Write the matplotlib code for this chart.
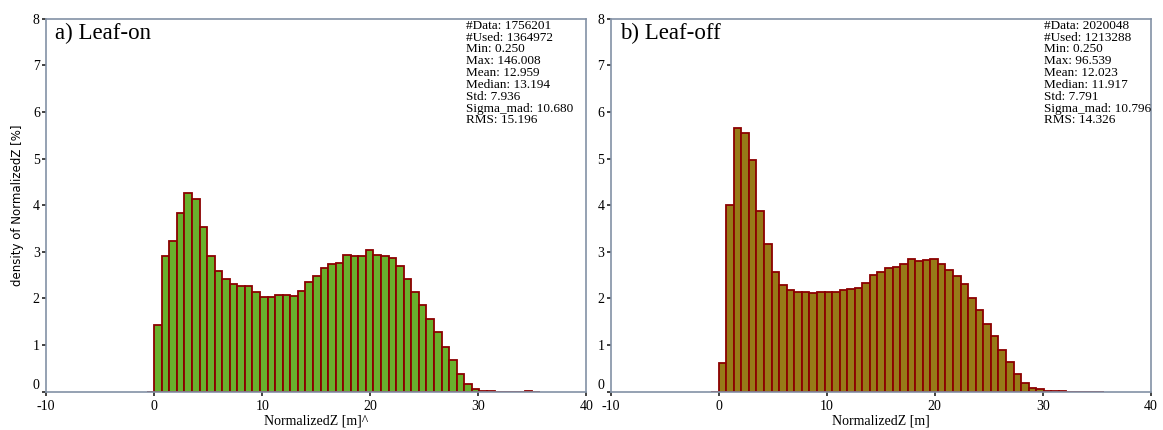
import numpy as np
import matplotlib.pyplot as plt

plt.rcParams['axes.unicode_minus'] = False

# histogram bins: width 0.7 m, starting one empty bin below zero
bin_width = 0.7
bin_start = -0.7

# density [%] per bin
leaf_on = [0.0,
           1.42, 2.90, 3.24, 3.83, 4.26, 4.13, 3.54, 2.91, 2.58, 2.42,
           2.30, 2.26, 2.26, 2.13, 2.04, 2.04, 2.07, 2.08, 2.06, 2.17,
           2.36, 2.48, 2.66, 2.74, 2.76, 2.93, 2.91, 2.92, 3.04, 2.93,
           2.90, 2.86, 2.69, 2.41, 2.13, 1.85, 1.56, 1.27, 0.96, 0.67,
           0.37, 0.17, 0.06, 0.02, 0.005, 0.004, 0.003, 0.003, 0.002, 0.02,
           0.002]
leaf_off = [0.0,
            0.62, 4.00, 5.65, 5.55, 4.98, 3.88, 3.17, 2.57, 2.29, 2.19,
            2.13, 2.14, 2.11, 2.13, 2.13, 2.14, 2.18, 2.21, 2.22, 2.33,
            2.51, 2.57, 2.66, 2.68, 2.73, 2.85, 2.80, 2.82, 2.85, 2.73,
            2.61, 2.48, 2.31, 2.00, 1.75, 1.46, 1.20, 0.89, 0.64, 0.39,
            0.18, 0.07, 0.05, 0.02, 0.008, 0.005, 0.004, 0.003, 0.002, 0.002,
            0.002]

titles = ['a) Leaf-on', 'b) Leaf-off']
xlabels = ['NormalizedZ [m]^', 'NormalizedZ [m]']
ylabel = 'density of NormalizedZ [%]'
colors = ['#69b12d', '#977a18']
stats = [
    ['#Data: 1756201', '#Used: 1364972', 'Min: 0.250', 'Max: 146.008',
     'Mean: 12.959', 'Median: 13.194', 'Std: 7.936', 'Sigma_mad: 10.680',
     'RMS: 15.196'],
    ['#Data: 2020048', '#Used: 1213288', 'Min: 0.250', 'Max: 96.539',
     'Mean: 12.023', 'Median: 11.917', 'Std: 7.791', 'Sigma_mad: 10.796',
     'RMS: 14.326'],
]
xticks = [-10, 0, 10, 20, 30, 40]
yticks = [0, 1, 2, 3, 4, 5, 6, 7, 8]

serif = 'Liberation Serif'
spine_col = '#8391a5'

fig = plt.figure(figsize=(11.63, 4.30), dpi=100)
ax_rects = [[0.0396, 0.0891, 0.4646, 0.8674],
            [0.5251, 0.0891, 0.4643, 0.8674]]

for i, vals in enumerate([leaf_on, leaf_off]):
    ax = fig.add_axes(ax_rects[i])
    lefts = bin_start + bin_width * np.arange(len(vals))
    ax.bar(lefts, vals, width=bin_width, align='edge', color=colors[i],
           edgecolor='#8b0000', linewidth=1.3)
    ax.set_xlim(-10, 40)
    ax.set_ylim(0, 8)
    ax.set_xticks(xticks)
    ax.set_yticks(yticks)
    for s in ax.spines.values():
        s.set_color(spine_col)
        s.set_linewidth(1.2)
    ax.tick_params(length=3, width=1.2, color='#222222', labelsize=10,
                   pad=1)
    ax.tick_params(axis='x', pad=3)
    ax.tick_params(axis='y', pad=1.5)
    for lab in ax.get_xticklabels() + ax.get_yticklabels():
        lab.set_family(serif)
    # nudge the "0" y label up a little, as in the reference corner
    ax.get_yticklabels()[0].set_verticalalignment('bottom')
    ax.set_xlabel(xlabels[i], family=serif, fontsize=10, labelpad=1)
    if i == 0:
        ax.set_ylabel(ylabel, family='DejaVu Sans', fontsize=8.5, labelpad=6)
    ax.text(0.017, 0.99, titles[i], transform=ax.transAxes, family=serif,
            fontsize=16.5, va='top', ha='left')
    ax.text(0.777 if i == 0 else 0.802, 0.997, '\n'.join(stats[i]),
            transform=ax.transAxes, family=serif, fontsize=9.5, va='top',
            ha='left', linespacing=0.98)

fig.savefig('out.png', dpi=100)
